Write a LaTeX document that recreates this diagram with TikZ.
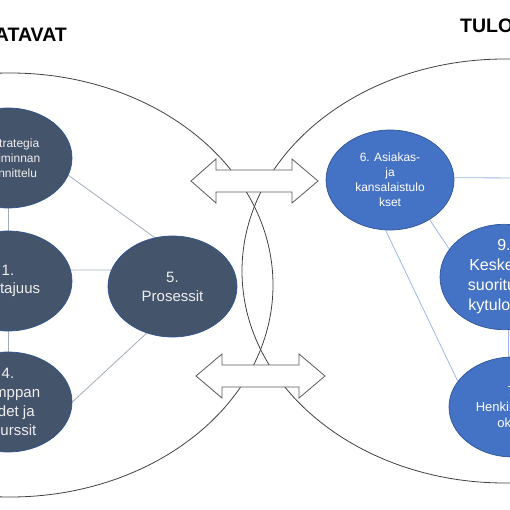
\documentclass[tikz,border=0pt]{standalone}
\usepackage{fontspec}
\setmainfont{Liberation Sans}
\usetikzlibrary{shapes.geometric}
\pgfdeclarelayer{rings}
\pgfdeclarelayer{links}
\pgfsetlayers{rings,links,main}
\definecolor{darknode}{HTML}{44546A}
\definecolor{bluenode}{HTML}{4472C4}
\definecolor{nodeedge}{HTML}{2F5597}
\definecolor{bigline}{HTML}{404040}
\definecolor{grayconn}{HTML}{A3ACBA}
\definecolor{blueconn}{HTML}{9DB9E6}
\definecolor{arrowline}{HTML}{595959}
\definecolor{paletext}{HTML}{EEEEEE}
\tikzset{
  bubble/.style={ellipse, minimum width=128pt, minimum height=100pt, inner sep=0pt,
    draw=nodeedge, line width=0.7pt, align=center},
  darkbubble/.style={bubble, fill=darknode, text=paletext},
  bluebubble/.style={bubble, fill=bluenode, text=white},
  bigring/.style={draw=bigline, line width=0.8pt},
  grayline/.style={draw=grayconn, line width=0.8pt},
  blueline/.style={draw=blueconn, line width=0.8pt},
  twoway/.style={draw=arrowline, fill=white, line width=0.8pt, line join=miter},
  heading/.style={font=\fontsize{19.5}{22}\selectfont\bfseries, text=black, inner sep=0pt}
}
\begin{document}
\begin{tikzpicture}[x=1pt,y=-1pt]
\useasboundingbox (0,0) rectangle (510,510);
% big rings
\begin{pgfonlayer}{rings}
\draw[bigring] (10,285) ellipse [x radius=263pt, y radius=212pt];
\draw[bigring] (505,271) ellipse [x radius=263pt, y radius=212pt];
\end{pgfonlayer}
% headings
\node[heading, anchor=base east] (tleft) at (67,42) {TOIMINTATAVAT};
\node[heading, anchor=base west] (tright) at (460,33) {TULOKSET};
% nodes
\node[darkbubble, font=\fontsize{12}{15}\selectfont] (n2) at (8,158) {2. Strategia\\ja toiminnan\\suunnittelu};
\node[darkbubble, font=\fontsize{15}{18}\selectfont] (n1) at (8,281) {1.\\Johtajuus};
\node[darkbubble, font=\fontsize{15}{19}\selectfont] (n4) at (8,402) {4.\\Kumppan\\uudet ja\\resurssit};
\node[darkbubble, minimum width=129pt, minimum height=101pt, font=\fontsize{15}{19}\selectfont] (n5) at (172.5,286.5) {5.\\Prosessit};
\node[bluebubble, font=\fontsize{12}{15}\selectfont] (n6) at (390,180) {6. Asiakas-\\ja\\kansalaistulo\\kset};
\node[bluebubble, font=\fontsize{16}{20}\selectfont] (n9) at (504,277) {9.\\Keskeiset\\suoritusky\\kytulokset};
\node[bluebubble, font=\fontsize{13}{16}\selectfont] (n7) at (513,407) {7.\\Henkilöstötul\\okset};
\coordinate (n8w) at (530,178);
% connectors
\begin{pgfonlayer}{links}
\draw[grayline] (n2.south) -- (n1.north);
\draw[grayline] (n1.south) -- (n4.north);
\draw[grayline] (n2.-16) -- (n5.110);
\draw[grayline] (n1.10) -- (n5.165);
\draw[grayline] (n4.east) -- (n5.241);
\draw[blueline] (n6.2) -- (n8w);
\draw[blueline] (n6.-45) -- (n9.153);
\draw[blueline] (n6.265) -- (n7.155);
\draw[blueline] (n9.-85) -- (n7.95);
\end{pgfonlayer}
% double arrows
\draw[twoway] (191,181) -- (216,159) -- (216,170) -- (292,170) -- (292,159) -- (318,181)
  -- (292,203) -- (292,192) -- (216,192) -- (216,203) -- cycle;
\draw[twoway] (196,376) -- (222,354) -- (222,365) -- (299,365) -- (299,354) -- (325,376)
  -- (299,398) -- (299,387) -- (222,387) -- (222,398) -- cycle;
\end{tikzpicture}
\end{document}
